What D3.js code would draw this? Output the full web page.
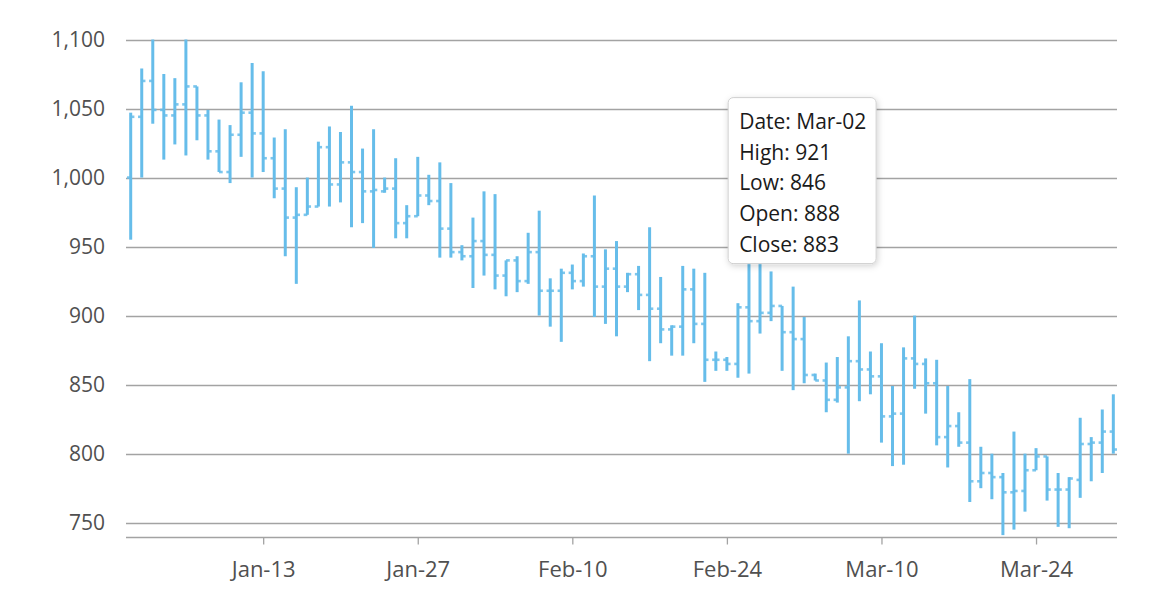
<!DOCTYPE html>
<html><head><meta charset="utf-8">
<script src="https://cdn.jsdelivr.net/npm/d3@7"></script>
<style>body{margin:0;background:#fff}svg{display:block}</style>
</head><body><svg id="c" width="1170" height="600"></svg>
<script>
const firstDay = "2019-01-01";
const lastDay = "2019-03-31";
const opens  = [1000,1044,1070,1049,1045,1053,1066,1045,1019,1004,1031,1047,1032,1014,992,971,973,979,1022,995,1011,1004,990,990,992,967,972,987,983,963,946,943,954,944,929,940,925,946,918,918,931,925,943,921,934,921,930,915,905,890,892,919,894,868,868,865,906,896,902,907,888,883,857,853,839,848,867,861,856,827,829,869,865,851,812,820,808,780,786,783,772,773,788,798,774,774,781,807,808,816];
const highs  = [1047,1079,1100,1075,1072,1100,1066,1049,1042,1038,1069,1083,1077,1029,1035,993,1000,1026,1037,1033,1052,1021,1035,1000,1014,980,1015,1002,1011,996,951,971,990,988,940,943,960,976,927,934,937,945,987,948,954,931,936,964,928,893,936,934,931,874,870,909,948,938,932,907,921,899,858,866,870,885,911,874,880,849,877,900,869,868,849,830,854,805,800,786,816,800,804,798,786,783,826,812,832,843];
const lows   = [955,1000,1039,1013,1024,1016,1027,1013,1004,996,1015,1000,1004,985,943,923,973,979,979,982,964,967,949,989,956,956,972,980,942,942,940,920,929,919,914,917,923,900,892,881,919,921,899,894,885,917,904,867,880,871,871,880,852,860,860,855,858,887,896,860,846,851,853,830,837,800,838,843,808,791,792,847,829,806,790,805,765,775,767,741,745,758,788,766,747,746,768,780,786,800];
const closes = [1044,1070,1049,1045,1053,1066,1045,1019,1004,1031,1047,1032,1014,992,971,973,979,1022,995,1011,1004,990,991,992,967,972,987,983,963,946,943,954,944,929,940,925,946,918,918,931,925,943,921,934,921,930,915,905,890,892,919,894,868,868,865,906,896,902,907,888,883,857,853,839,848,867,861,856,827,829,869,865,851,812,820,808,780,786,783,772,773,788,798,774,774,782,807,808,816,803];
const yTicks = [750,800,850,900,950,1000,1050,1100];
const xTickLabels = ["Jan-13","Jan-27","Feb-10","Feb-24","Mar-10","Mar-24"];
const tooltipDate = "Mar-02";

const year = 2019;
const parseDay = d3.timeParse("%Y-%m-%d");
const parseLabel = s => d3.timeParse("%Y-%b-%d")(year + "-" + s);
const fmt = d3.timeFormat("%b-%d");
const days = d3.timeDay.range(parseDay(firstDay), d3.timeDay.offset(parseDay(lastDay), 1));
const data = days.map((d, i) => ({date: d, open: opens[i], high: highs[i], low: lows[i], close: closes[i]}));

const svg = d3.select("#c");
const pLeft = 126, pRight = 1117, pTop = 39.5, pBottom = 536.5;
const hour = 3600 * 1000;
const x = d3.scaleTime()
  .domain([new Date(days[0].getTime() - 10.2 * hour), new Date(days[days.length - 1].getTime() + 8 * hour)])
  .range([pLeft, pRight]);
const y = d3.scaleLinear().domain([740, 1100]).range([pBottom, pTop]);

const font = "'Open Sans', 'Noto Sans', sans-serif";
const labelColor = "#505050";
const gridColor = "#a3a3a3";

// grid + y labels
const gy = svg.append("g");
gy.selectAll("line").data(yTicks).join("line")
  .attr("x1", pLeft).attr("x2", pRight)
  .attr("y1", d => Math.round(y(d)) + 0.5).attr("y2", d => Math.round(y(d)) + 0.5)
  .attr("stroke", gridColor).attr("stroke-width", 1.3);
gy.selectAll("text").data(yTicks).join("text")
  .attr("x", 105).attr("y", d => y(d)).attr("dy", "0.35em")
  .attr("text-anchor", "end").attr("font-family", font).attr("font-size", 21)
  .attr("fill", labelColor).text(d => d3.format(",")(d));

// x axis
const xAxis = d3.axisBottom(x)
  .tickValues(xTickLabels.map(parseLabel))
  .tickFormat(fmt).tickSize(7).tickPadding(17).tickSizeOuter(0);
const gx = svg.append("g").attr("transform", `translate(0,${Math.round(pBottom) + 0.5})`).call(xAxis);
gx.select(".domain").attr("stroke", gridColor).attr("stroke-width", 1.3).attr("d", `M${pLeft},0H${pRight}`);
gx.selectAll(".tick line").attr("stroke", gridColor).attr("stroke-width", 1.3);
gx.selectAll(".tick text").attr("font-family", font).attr("font-size", 22).attr("fill", labelColor);

// OHLC bars
const color = "#66bdea";
const g = svg.append("g");
const bars = g.selectAll("g").data(data).join("g");
bars.append("line")
  .attr("x1", d => x(d.date)).attr("x2", d => x(d.date))
  .attr("y1", d => y(d.high)).attr("y2", d => y(d.low))
  .attr("stroke", color).attr("stroke-width", 3);
bars.append("line")
  .attr("x1", d => x(d.date) - 3.7).attr("x2", d => x(d.date))
  .attr("y1", d => y(d.open)).attr("y2", d => y(d.open))
  .attr("stroke", color).attr("stroke-width", 2.6).attr("opacity", 0.85);
bars.append("line")
  .attr("x1", d => x(d.date)).attr("x2", d => x(d.date) + 3.7)
  .attr("y1", d => y(d.close)).attr("y2", d => y(d.close))
  .attr("stroke", color).attr("stroke-width", 2.6).attr("opacity", 0.85);

// tooltip
const defs = svg.append("defs");
const f = defs.append("filter").attr("id", "sh").attr("x", "-20%").attr("y", "-20%").attr("width", "140%").attr("height", "140%");
f.append("feDropShadow").attr("dx", 1).attr("dy", 2).attr("stdDeviation", 3).attr("flood-color", "#000").attr("flood-opacity", 0.18);
const td = data.find(d => fmt(d.date) === tooltipDate);
const tw = 148, th = 166;
const tx = x(td.date) - 65, ty = y(td.high) - 23 - th;
const tt = svg.append("g").attr("transform", `translate(${tx},${ty})`);
tt.append("rect").attr("width", tw).attr("height", th).attr("rx", 5)
  .attr("fill", "#fff").attr("stroke", "#cfcfcf").attr("stroke-width", 1).attr("filter", "url(#sh)");
const lines = [
  "Date: " + fmt(td.date),
  "High: " + td.high,
  "Low: " + td.low,
  "Open: " + td.open,
  "Close: " + td.close
];
tt.selectAll("text").data(lines).join("text")
  .attr("x", 11).attr("y", (d, i) => 31.3 + i * 30.7)
  .attr("font-family", font).attr("font-size", 21).attr("fill", "#1a1a1a").text(d => d);
</script>
</body></html>
